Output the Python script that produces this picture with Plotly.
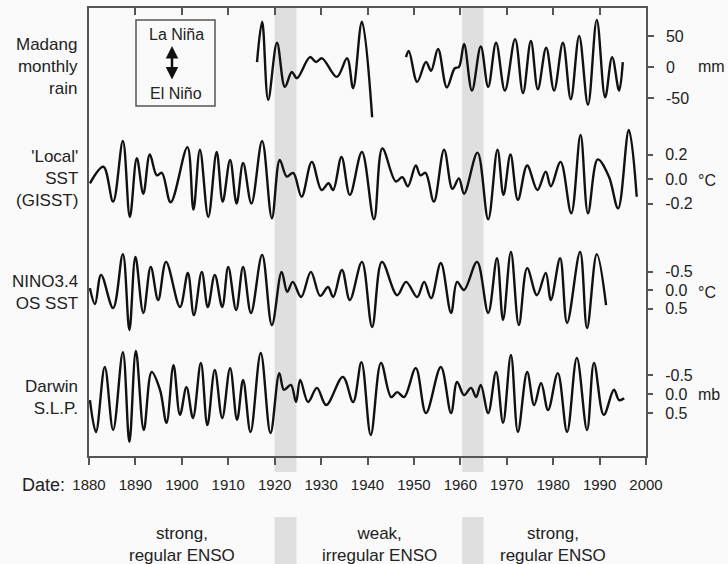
import plotly.graph_objects as go

# ---------------- data ----------------
madang_years = [1916.2, 1917.3, 1918.6, 1920.5, 1922.2, 1923.7, 1924.8, 1927.6, 1928.9, 1930.2,
                1933.4, 1935.6, 1936.9, 1938.8, 1941.0, None,
                1948.3, 1948.9, 1950.7, 1952.6, 1953.7, 1955.2, 1957.1, 1958.8, 1959.7, 1960.8,
                1962.5, 1964.4, 1966.0, 1967.7, 1969.6, 1971.8, 1973.5, 1975.2, 1976.7, 1978.5,
                1980.2, 1982.1, 1983.8, 1985.6, 1987.5, 1989.4, 1991.2, 1992.7, 1994.2, 1995.0]
madang_mm = [8, 73, -53, 39, -32, -8, -18, 16, 8, 14,
             -16, 14, -34, 73, -81, None,
             16, 26, -24, 8, -6, 29, -33, -2, 0, 37,
             -38, 33, -32, 39, -38, 45, -42, 42, -36, 31,
             -38, 39, -52, 50, -61, 76, -49, 16, -38, 8]

sst_years = [1880.2, 1883.1, 1885.2, 1887.3, 1888.8, 1890.3, 1891.7, 1893.1, 1894.6, 1895.7,
             1897.6, 1901.2, 1902.5, 1903.9, 1905.7, 1907.5, 1908.8, 1910.4,
             1911.8, 1913.2, 1915.0, 1917.3, 1919.4, 1921.1, 1922.6, 1924.0, 1925.8, 1928.0,
             1930.1, 1931.6, 1932.6, 1934.4, 1936.2, 1938.8, 1941.4, 1943.2, 1946.1, 1947.5,
             1948.7, 1950.4, 1951.4, 1952.5, 1954.3, 1956.5, 1958.3, 1959.7, 1960.8, 1963.7,
             1966.0, 1968.0, 1969.3, 1970.8, 1972.4, 1974.4, 1976.6, 1978.4, 1979.5, 1981.6,
             1983.9, 1985.9, 1987.5, 1989.6, 1992.0, 1994.0, 1996.3, 1998.0]
sst_c = [-0.035, 0.10, -0.185, 0.31, -0.31, 0.17, -0.12, 0.20, 0.03, 0.05,
         -0.19, 0.26, -0.25, 0.24, -0.31, 0.22, -0.185, 0.155,
         -0.20, 0.13, -0.20, 0.31, -0.32, 0.155, 0.02, 0.05, -0.145, 0.14,
         -0.09, -0.035, -0.09, 0.18, -0.13, 0.22, -0.33, 0.25, -0.02, 0.015,
         -0.06, 0.11, 0.03, 0.05, -0.185, 0.24, -0.08, 0.005, -0.12, 0.215,
         -0.33, 0.24, -0.13, 0.20, -0.17, 0.11, -0.09, 0.06, -0.06, 0.14,
         -0.28, 0.36, -0.28, 0.16, 0.02, -0.24, 0.40, -0.145]

nino_years = [1880.2, 1881.3, 1882.6, 1885.2, 1887.3, 1888.7, 1890.0, 1891.7, 1893.3, 1894.9,
              1896.6, 1899.6, 1901.3, 1902.6, 1904.3, 1905.6, 1907.1, 1908.7, 1910.0, 1911.7,
              1913.2, 1914.9, 1917.3, 1919.4, 1921.5, 1922.7, 1923.9, 1925.7, 1927.8, 1929.8,
              1931.5, 1932.6, 1934.5, 1936.2, 1938.8, 1941.0, 1943.1, 1946.4, 1948.3, 1950.7,
              1952.2, 1953.7, 1955.8, 1958.0, 1959.3, 1960.8, 1963.6, 1966.0, 1967.9, 1969.2,
              1970.9, 1972.6, 1974.4, 1976.5, 1978.4, 1979.5, 1981.5, 1983.0, 1985.8, 1987.3,
              1989.4, 1991.4]
nino_c = [-0.05, 0.38, -0.41, 0.49, -0.97, 1.08, -0.89, 0.62, -0.62, 0.27,
          -0.76, 0.46, -0.46, 0.68, -0.49, 0.46, -0.41, 0.46, -0.62, 0.54,
          -0.62, 0.62, -0.95, 0.95, -0.49, 0.05, -0.22, 0.19, -0.49, 0.16,
          -0.08, 0.19, -0.54, 0.27, -0.76, 1.00, -0.76, 0.14, -0.22, 0.19,
          -0.22, 0.22, -0.73, 0.62, -0.22, 0.00, -0.76, 0.62, -0.86, 0.81,
          -1.03, 0.95, -0.59, 0.14, -0.46, 0.27, -0.86, 0.89, -1.03, 1.03,
          -0.97, 0.41]

darwin_years = [1880.2, 1881.5, 1883.4, 1885.2, 1887.3, 1888.7, 1890.1, 1891.8, 1893.5, 1895.3,
                1896.7, 1898.2, 1899.6, 1901.0, 1902.4, 1904.1, 1905.5, 1907.1, 1908.7, 1910.4,
                1911.9, 1913.2, 1914.8, 1917.0, 1919.1, 1921.0, 1922.0, 1923.5, 1924.6, 1925.5,
                1927.2, 1929.1, 1931.1, 1934.7, 1936.9, 1938.7, 1940.7, 1942.9, 1945.1, 1946.4,
                1947.9, 1950.4, 1952.6, 1955.8, 1958.0, 1959.3, 1960.8, 1962.3, 1963.4, 1964.4,
                1966.0, 1967.7, 1969.2, 1970.9, 1972.4, 1974.4, 1975.9, 1977.4, 1978.9, 1981.0,
                1983.0, 1985.1, 1987.3, 1988.8, 1990.9, 1993.1, 1994.2, 1995.3]
darwin_mb = [0.16, 1.00, -0.71, 0.95, -1.10, 1.26, -1.13, 0.95, -0.58, -0.11,
             0.76, -0.76, 0.55, -0.18, 0.63, -0.82, 0.82, -0.63, 0.63, -0.68,
             0.68, -0.37, 1.00, -1.08, 1.03, -0.55, -0.11, -0.24, 0.21, -0.37,
             0.21, -0.16, 0.29, -0.45, 0.21, -0.84, 1.08, -0.82, 0.08, -0.05,
             0.08, -0.68, 0.50, -0.71, 0.50, -0.32, 0.03, -0.16, 0.08, -0.24,
             0.50, -0.58, 0.76, -1.03, 1.00, -0.58, 0.29, -0.29, 0.42, -0.55,
             1.00, -0.95, 0.95, -0.82, 0.55, -0.11, 0.16, 0.11]

year_ticks = list(range(1880, 2001, 10))
shade_periods = [(1920.0, 1924.7), (1960.4, 1965.0)]
phase_labels = ["strong,<br>regular ENSO", "weak,<br>irregular ENSO", "strong,<br>regular ENSO"]
phase_centres = [1900.0, 1942.5, 1980.0]

# ---------------- layout geometry (pixels) ----------------
W, H = 728, 564
BOX_L, BOX_R, BOX_T, BOX_B = 89, 646, 8, 456
FONT = "Liberation Sans, Arial, Helvetica, sans-serif"
INK = "#222222"
AXC = "#555555"


def px_x(p):
    return p / W


def px_y(p):
    return 1 - p / H


def axis_range(zero_px, px_per_unit, reverse=False):
    top = (zero_px - BOX_T) / px_per_unit
    bot = (BOX_B - zero_px) / px_per_unit
    return [bot, -top] if reverse else [-bot, top]


def label(fig, text, x, y, xref="paper", xanchor="center", size=16, align="center"):
    fig.add_annotation(xref=xref, yref="paper", x=x, y=y, text=text, showarrow=False,
                       xanchor=xanchor, yanchor="middle", align=align,
                       font=dict(size=size, color=INK, family=FONT))


fig = go.Figure()

line = dict(color="#111111", width=2.4, shape="spline", smoothing=1.0)
fig.add_trace(go.Scatter(x=madang_years, y=madang_mm, mode="lines", line=line,
                         xaxis="x2", yaxis="y2", connectgaps=False, hoverinfo="skip"))
fig.add_trace(go.Scatter(x=sst_years, y=sst_c, mode="lines", line=line,
                         xaxis="x2", yaxis="y3", hoverinfo="skip"))
fig.add_trace(go.Scatter(x=nino_years, y=nino_c, mode="lines", line=line,
                         xaxis="x2", yaxis="y4", hoverinfo="skip"))
fig.add_trace(go.Scatter(x=darwin_years, y=darwin_mb, mode="lines", line=line,
                         xaxis="x2", yaxis="y5", hoverinfo="skip"))
# trace for the top tick axis (no visible marks)
fig.add_trace(go.Scatter(x=[None], y=[None], xaxis="x3", yaxis="y2", showlegend=False,
                         hoverinfo="skip"))

xdom = [px_x(BOX_L), px_x(BOX_R)]
ydom = [px_y(BOX_B), px_y(BOX_T)]

right_axis = dict(anchor="x2", side="right", domain=ydom, ticks="outside", ticklen=6,
                  tickwidth=1.5, tickcolor=AXC, showgrid=False, zeroline=False,
                  tickfont=dict(family=FONT, size=16, color=INK), ticklabelstandoff=9,
                  fixedrange=True, automargin=False)

fig.update_layout(
    template="none",
    width=W, height=H, margin=dict(l=0, r=0, t=0, b=0, autoexpand=False),
    paper_bgcolor="#fafafa", plot_bgcolor="rgba(0,0,0,0)",
    showlegend=False,
    font=dict(family=FONT, color=INK),
    # graph-paper background
    xaxis=dict(domain=[0, 1], range=[0, W], dtick=5, tick0=0, showgrid=True,
               gridcolor="#ececec", gridwidth=1, showticklabels=False, ticks="",
               zeroline=False, showline=False, anchor="y", automargin=False),
    yaxis=dict(domain=[0, 1], range=[0, H], dtick=5, tick0=0, showgrid=True,
               gridcolor="#ececec", gridwidth=1, showticklabels=False, ticks="",
               zeroline=False, showline=False, anchor="x", automargin=False),
    xaxis2=dict(domain=xdom, anchor="y2", range=[1880, 2000], tickvals=year_ticks,
                ticks="outside", ticklen=7, tickwidth=1.5, tickcolor=AXC,
                showline=True, linecolor=AXC, linewidth=1.5, showgrid=False, zeroline=False,
                tickfont=dict(family=FONT, size=15, color=INK), ticklabelstandoff=7,
                automargin=False),
    xaxis3=dict(overlaying="x2", anchor="y2", side="top", range=[1880, 2000],
                tickvals=year_ticks, ticks="inside", ticklen=7, tickwidth=1.5, tickcolor=AXC,
                showline=True, linecolor=AXC, linewidth=1.5, showticklabels=False,
                showgrid=False, zeroline=False, automargin=False),
    yaxis2=dict(right_axis, range=axis_range(67, 31 / 50), tickvals=[-50, 0, 50],
                ticktext=["-50", "0", "50"], showline=True, mirror=True,
                linecolor=AXC, linewidth=1.5),
    yaxis3=dict(right_axis, overlaying="y2", range=axis_range(179, 24.5 / 0.2),
                tickvals=[-0.2, 0, 0.2], ticktext=["-0.2", "0.0", "0.2"], showline=False),
    yaxis4=dict(right_axis, overlaying="y2", range=axis_range(290, 37, reverse=True),
                tickvals=[-0.5, 0, 0.5], ticktext=["-0.5", "0.0", "0.5"], showline=False),
    yaxis5=dict(right_axis, overlaying="y2", range=axis_range(394, 38, reverse=True),
                tickvals=[-0.5, 0, 0.5], ticktext=["-0.5", "0.0", "0.5"], showline=False),
)

# shaded periods (interrupted behind the date labels)
for a, b in shade_periods:
    for y0, y1 in [(472, BOX_T), (H, 517)]:
        fig.add_shape(type="rect", xref="x2", yref="paper", x0=a, x1=b,
                      y0=px_y(y0), y1=px_y(y1), line_width=0,
                      fillcolor="rgba(190,190,190,0.45)", layer="below")

# legend box
fig.add_shape(type="rect", xref="paper", yref="paper", x0=px_x(136), x1=px_x(215),
              y0=px_y(106), y1=px_y(20), line=dict(color=AXC, width=1.5),
              fillcolor="rgba(0,0,0,0)")
label(fig, "La Niña", px_x(176), px_y(34))
label(fig, "El Niño", px_x(176), px_y(93))
fig.add_annotation(xref="paper", yref="paper", x=px_x(172), y=px_y(46), text="",
                   showarrow=True, ax=0, ay=35, arrowhead=2, arrowside="end+start",
                   arrowsize=1, arrowwidth=2.5, arrowcolor="#111111")

# series labels
series_labels = [("Madang<br>monthly<br>rain", 67), ("'Local'<br>SST<br>(GISST)", 179),
                 ("NINO3.4<br>OS SST", 292), ("Darwin<br>S.L.P.", 397)]
for txt, yc in series_labels:
    label(fig, txt, px_x(80), px_y(yc), xanchor="right", size=17, align="right")

# units
for txt, yc in [("mm", 67), ("°C", 180), ("°C", 292), ("mb", 394)]:
    label(fig, txt, px_x(696), px_y(yc), xanchor="left", size=16, align="left")

label(fig, "Date:", px_x(67), px_y(485), xanchor="right", size=18, align="right")

for txt, xc in zip(phase_labels, phase_centres):
    label(fig, txt, xc, px_y(544), xref="x2", size=17)

fig.write_html("out.html")
